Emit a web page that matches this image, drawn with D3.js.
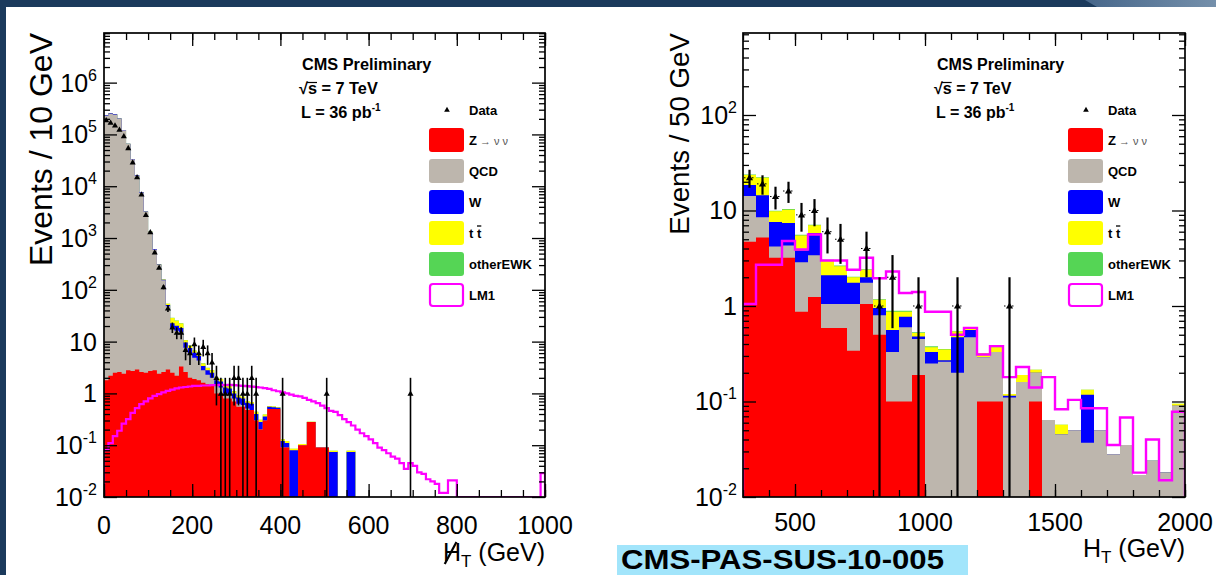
<!DOCTYPE html>
<html><head><meta charset="utf-8">
<script src="https://cdn.jsdelivr.net/npm/d3@7"></script>
<style>
body{margin:0;background:#fff;}
svg{display:block;font-family:"Liberation Sans",Arial,Helvetica,sans-serif;}
</style>
</head><body>
<svg id="c" width="1216" height="575"></svg>
<script>
// ---------------- DATA ----------------
// Left panel: missing HT, 10 GeV bins, 0-1000 GeV (100 bins)
const leftZ = [1.8,2.2,2.5,2.6,2.4,2.8,2.7,2.9,2.6,2.5, 2.7,2.8,2.4,2.6,2.9,2.5,2.2,3.3,2.6,2.0,
 1.9,1.8,1.6,1.5,1.4,1.0,1.0,0.8,0.8,0.7, 0.55,0.55,0.48,0.48,0.3,0.2,0.3,0.5,0.5,0.5,
 0.09,0.09,0,0,0.1,0.1,0.28,0.28,0.09,0.09, 0.09,0,0,0,0,0,0,0,0,0,
 0,0,0,0,0,0,0,0,0,0, 0,0,0,0,0,0,0,0,0,0, 0,0,0,0,0,0,0,0,0,0, 0,0,0,0,0,0,0,0,0,0];
const leftQCD = [2.3e5,2.5e5,2.4e5,2.0e5,1.2e5,6.5e4,3.3e4,1.6e4,7.5e3,3.2e3, 1300,600,300,150,45,16,14,12,5,4,
 3,2.5,1.2,0.8,0.6,0.4,0.3,0.2,0.15,0.1, 0.08,0.05,0.03,0,0,0,0,0,0,0,
 0,0,0,0,0,0,0,0,0,0, 0,0,0,0,0,0,0,0,0,0, 0,0,0,0,0,0,0,0,0,0,
 0,0,0,0,0,0,0,0,0,0, 0,0,0,0,0,0,0,0,0,0, 0,0,0,0,0,0,0,0,0,0];
const leftW = [4000,5000,4000,3000,2000,1200,600,300,120,50, 25,10,6,4,3,4,4,3,2,1.5,
 1.2,1.0,0.6,0.5,0.5,0.4,0.4,0.3,0.3,0.2, 0.2,0.2,0.15,0.15,0.1,0.08,0.06,0.05,0.04,0.03,
 0.03,0.02,0.08,0.08,0,0,0,0,0,0, 0,0.074,0.074,0,0,0.074,0.074,0,0,0,
 0,0,0,0,0,0,0,0,0,0, 0,0,0,0,0,0,0,0,0,0, 0,0,0,0,0,0,0,0,0,0, 0,0,0,0,0,0,0,0,0,0];
const leftTT = [1,1,1,1,1,1,1,1,1,1, 2,2,2,2,3,6,5,4,1.0,0.8,
 0.6,0.5,0.4,0.3,0.3,0.2,0.2,0.15,0.12,0.1, 0.08,0.06,0.05,0.05,0.04,0.03,0.03,0.02,0.02,0.01,
 0.01,0.01,0.005,0.005,0.005,0.005,0.003,0.003,0,0, 0,0.004,0.004,0,0,0.004,0.004,0,0,0,
 0,0,0,0,0,0,0,0,0,0, 0,0,0,0,0,0,0,0,0,0, 0,0,0,0,0,0,0,0,0,0, 0,0,0,0,0,0,0,0,0,0];
const leftEWK = [50,50,40,30,20,10,5,3,1,0.5, 0.3,0.2,0.2,0.2,0.2,0.3,0.3,0.3,0.1,0.1,
 0.05,0.05,0.03,0.03,0.02,0.02,0.02,0.01,0.01,0.01, 0,0,0,0,0,0,0,0,0,0,
 0,0,0,0,0,0,0,0,0,0, 0,0,0,0,0,0,0,0,0,0, 0,0,0,0,0,0,0,0,0,0,
 0,0,0,0,0,0,0,0,0,0, 0,0,0,0,0,0,0,0,0,0, 0,0,0,0,0,0,0,0,0,0];
const leftLM1 = [0.08,0.11,0.15,0.19,0.26,0.32,0.42,0.52,0.62,0.7, 0.8,0.9,0.97,1.05,1.12,1.18,1.25,1.3,1.33,1.36,
 1.4,1.4,1.42,1.42,1.45,1.45,1.47,1.45,1.47,1.45, 1.42,1.4,1.38,1.35,1.33,1.3,1.27,1.22,1.15,1.1,
 1.05,1.0,0.95,0.9,0.88,0.82,0.75,0.7,0.65,0.58, 0.52,0.46,0.44,0.38,0.32,0.28,0.24,0.2,0.17,0.15,
 0.13,0.11,0.09,0.08,0.07,0.06,0.055,0.045,0.035,0.045, 0.04,0.03,0.028,0.022,0.02,0.018,0.012,0.012,0.021,0.021,
 0,0,0,0,0,0,0,0,0,0, 0,0,0,0,0,0,0,0,0,0.029];
const leftData = [1.9e5,1.7e5,1.5e5,1.25e5,9.3e4,5.5e4,2.9e4,1.5e4,7000,2800, 1300,530,270,113,44,19,15,15,7,6,
 9,6,8,6,4,2,1,1,1,2, 2,1,1,2,1,0,0,0,0,0,
 1,0,0,0,0,0,0,0,0,0, 1,0,0,0,0,0,0,0,0,0, 0,0,0,0,0,0,0,0,0,1,
 0,0,0,0,0,0,0,0,0,0, 0,0,0,0,0,0,0,0,0,0, 0,0,0,0,0,0,0,0,0,0];

// Right panel: HT, 50 GeV bins, 300-2000 GeV (34 bins)
const rightZ = [4.7,5.2,3.2,3.2,0.87,1.24,0.59,0.59,0.34,1.05, 0.5,0.1,0.1,0.19,0,0,0,0,0.1,0.1,
 0,0,0.1,0,0,0,0,0,0,0, 0,0,0,0];
const rightQCD = [9.5,3.3,1.0,1.1,2.0,2.16,0.46,0.46,0.71,0.7, 0.3,0.23,0.5,0.26,0.25,0.26,0.2,0.47,0.19,0.23,
 0.11,0.16,0.1,0.064,0.045,0.05,0.037,0.05,0.028,0.035, 0.017,0.024,0.018,0.09];
const rightW = [4.3,5.9,3.4,3.1,0.95,2.4,1.05,1.05,0.7,0.25, 0.15,0.23,0.17,0.03,0.08,0.01,0.27,0.09,0,0,
 0.005,0,0,0,0,0,0.081,0,0,0, 0,0,0,0];
const rightTT = [5.0,7.6,2.2,2.8,1.65,1.2,0.9,0.5,0.25,0.4, 0.21,0.31,0.1,0.04,0.04,0.08,0.07,0.03,0.03,0.04,
 0.005,0.03,0.015,0,0.012,0,0.015,0,0,0, 0,0,0,0.005];
const rightEWK = [0.3,0.3,0.15,0.15,0.1,0.1,0.05,0.05,0.03,0.03, 0.02,0.02,0.02,0.01,0.01,0.005,0.005,0.005,0,0,
 0,0,0,0,0,0,0,0,0,0, 0,0,0,0];
const rightLM1 = [1.05,2.7,2.7,4.8,3.9,5.6,3.0,3.0,2.4,3.2, 1.95,2.3,1.37,1.4,0.87,0.87,0.5,0.59,0.31,0.38,
 0.18,0.23,0.14,0.18,0.083,0.104,0.085,0.085,0.035,0.068, 0.018,0.04,0.015,0.078];
const rightData = [22,19,14,16,9,10,6,5,0,4, 1,2,0,1,0,0,1,0,0,0,
 1,0,0,0,0,0,0,0,0,0, 0,0,0,0];

const leftXTicks = [0,200,400,600,800,1000];
const rightXTicks = [500,1000,1500,2000];
const leftDecades = [-2,-1,0,1,2,3,4,5,6];
const rightDecades = [-2,-1,0,1,2];
const legendNames = ["Z","QCD","W","t t","otherEWK","LM1"];
const stackColors = ["#ff0000","#bdb6ad","#0000ff","#ffff00","#55d555"];

// ---------------- DRAW ----------------
const svg = d3.select("#c");
const defs = svg.append("defs");
const W = 1216, H = 575;

// slide decoration
svg.append("rect").attr("x",0).attr("y",0).attr("width",W).attr("height",7).attr("fill","#1b3a5c");
svg.append("rect").attr("x",0).attr("y",0).attr("width",6).attr("height",H).attr("fill","#1b3a5c");
const lg = defs.append("linearGradient").attr("id","cg").attr("x1","0").attr("x2","1");
lg.append("stop").attr("offset","0").attr("stop-color","#46668a");
lg.append("stop").attr("offset","1").attr("stop-color","#7590ab");
svg.append("path").attr("d","M1085,0 L1216,0 L1216,7 L1097,7 Z").attr("fill","url(#cg)");

function drawPanel(c){
  const x = d3.scaleLinear().domain(c.xDomain).range([c.x0,c.x1]);
  const y = d3.scaleLog().domain([0.01,c.yMax]).range([c.yB,c.yT]).clamp(true);
  const Y = v => v>0 ? y(v) : c.yB;
  const n = c.layers[0].length;
  const bw = (c.xDomain[1]-c.xDomain[0])/n;
  const edges = d3.range(n+1).map(i=>c.xDomain[0]+i*bw);
  const g = svg.append("g");
  const cid = "clip"+c.id;
  defs.append("clipPath").attr("id",cid).append("rect")
    .attr("x",c.x0).attr("y",c.yT).attr("width",c.x1-c.x0).attr("height",c.yB-c.yT);
  const pg = g.append("g").attr("clip-path",`url(#${cid})`);

  // stacked histogram (cumulative, drawn top-down)
  let acc = new Array(n).fill(0); const cums = [];
  c.layers.forEach(L=>{acc = acc.map((a,i)=>a+L[i]); cums.push(acc.slice());});
  const area = d3.area().curve(d3.curveStepAfter).x(d=>x(d[0])).y0(c.yB).y1(d=>Y(d[1]));
  for(let k=cums.length-1;k>=0;k--){
    const pts = edges.map((e,i)=>[e,cums[k][Math.min(i,n-1)]]);
    pg.append("path").attr("d",area(pts)).attr("fill",stackColors[k]);
  }
  // LM1 line
  const line = d3.line().curve(d3.curveStepAfter).x(d=>x(d[0])).y(d=>Y(d[1]));
  const lpts = [[edges[0],0]].concat(edges.map((e,i)=>[e,c.lm1[Math.min(i,n-1)]])).concat([[edges[n],0]]);
  pg.append("path").attr("d",line(lpts)).attr("fill","none").attr("stroke","#ff00ff").attr("stroke-width",c.lmW);

  // data
  const dg = pg.append("g");
  c.data.forEach((v,i)=>{
    if(v<=0) return;
    const cx = x(edges[i]+bw/2), e = Math.sqrt(v);
    dg.append("line").attr("x1",cx).attr("x2",cx).attr("y1",Y(v+e)).attr("y2",Y(v-e))
      .attr("stroke","#000").attr("stroke-width",c.errW);
    if(c.xerr){
      dg.append("line").attr("x1",x(edges[i])+1).attr("x2",x(edges[i+1])-1).attr("y1",Y(v)).attr("y2",Y(v))
        .attr("stroke","#000").attr("stroke-width",1).attr("stroke-dasharray","1.5,2.5");
    }
    dg.append("path").attr("d",d3.symbol(d3.symbolTriangle,c.mk)()).attr("transform",`translate(${cx},${Y(v)+0.5})`).attr("fill","#000");
  });

  // axes ticks
  const majorY = c.decades.map(e=>Math.pow(10,e));
  const minorY = [];
  c.decades.forEach(e=>{for(let m=2;m<=9;m++){const v=m*Math.pow(10,e); if(v<c.yMax) minorY.push(v);}});
  const ax = g.append("g");
  const styleAx = s=>{s.select(".domain").remove(); s.selectAll("line").attr("stroke","#000").attr("stroke-width",1.3);};
  ax.append("g").attr("transform",`translate(${c.x0},0)`).call(d3.axisLeft(y).tickValues(majorY).tickSize(-13).tickFormat("")).call(styleAx);
  ax.append("g").attr("transform",`translate(${c.x0},0)`).call(d3.axisLeft(y).tickValues(minorY).tickSize(-6).tickFormat("")).call(styleAx);
  ax.append("g").attr("transform",`translate(${c.x1},0)`).call(d3.axisRight(y).tickValues(majorY).tickSize(-13).tickFormat("")).call(styleAx);
  ax.append("g").attr("transform",`translate(${c.x1},0)`).call(d3.axisRight(y).tickValues(minorY).tickSize(-6).tickFormat("")).call(styleAx);
  ax.append("g").attr("transform",`translate(0,${c.yB})`).call(d3.axisBottom(x).tickValues(c.xMajor).tickSize(-13).tickFormat("")).call(styleAx);
  ax.append("g").attr("transform",`translate(0,${c.yB})`).call(d3.axisBottom(x).tickValues(c.xMinor).tickSize(-7).tickFormat("")).call(styleAx);
  ax.append("g").attr("transform",`translate(0,${c.yT})`).call(d3.axisTop(x).tickValues(c.xMajor).tickSize(-13).tickFormat("")).call(styleAx);
  ax.append("g").attr("transform",`translate(0,${c.yT})`).call(d3.axisTop(x).tickValues(c.xMinor).tickSize(-7).tickFormat("")).call(styleAx);
  g.append("rect").attr("x",c.x0).attr("y",c.yT).attr("width",c.x1-c.x0).attr("height",c.yB-c.yT)
    .attr("fill","none").attr("stroke","#000").attr("stroke-width",1.7);

  // y tick labels
  c.decades.forEach(e=>{
    const t = g.append("text").attr("x",c.x0-c.yLabOff).attr("y",y(Math.pow(10,e))+9)
      .attr("text-anchor","end").attr("font-size",c.labFs).attr("fill","#000");
    if(e===0){t.text("1");}
    else if(e===1){t.text("10");}
    else { t.append("tspan").text("10"); t.append("tspan").attr("font-size",c.labFs*0.64).attr("dy",-11).text(String(e)); }
  });
  // x tick labels
  c.xMajor.forEach(v=>{
    g.append("text").attr("x",x(v)).attr("y",c.xLabY).attr("text-anchor","middle")
      .attr("font-size",c.labFs).attr("fill","#000").text(String(v));
  });
  // y title
  g.append("text").attr("transform",`translate(${c.yTitleX},${c.yT}) rotate(-90)`).attr("text-anchor","end")
    .attr("font-size",c.yTitleFs).attr("fill","#000").text(c.yTitle);
  // x title
  const xt = g.append("text").attr("y",c.xTitleY).attr("font-size",25).attr("fill","#000");
  xt.append("tspan").text("H");
  xt.append("tspan").attr("font-size",17).attr("dy",6).text("T");
  xt.append("tspan").attr("dy",-6).text(" (GeV)");
  const xw = xt.node().getComputedTextLength();
  const xs = c.x1 - xw;
  xt.attr("x",xs);
  if(c.slash){
    const hw = xt.node().getSubStringLength(0,1);
    g.append("line").attr("x1",xs+hw*0.1).attr("y1",c.xTitleY+3).attr("x2",xs+hw*0.75).attr("y2",c.xTitleY-19)
      .attr("stroke","#000").attr("stroke-width",2.2);
  }

  // CMS text
  const tx = c.x0 + c.cmsOff;
  const fs = c.cmsFs;
  g.append("text").attr("x",tx).attr("y",70).attr("font-size",fs).attr("font-weight","bold").text("CMS Preliminary");
  const st = g.append("text").attr("x",tx-3).attr("y",94).attr("font-size",fs).attr("font-weight","bold").text("\u221As = 7 TeV");
  const sw0 = st.node().getSubStringLength(0,1), sw1 = st.node().getSubStringLength(1,1);
  g.append("line").attr("x1",tx-3+sw0-1).attr("x2",tx-3+sw0+sw1).attr("y1",82.5).attr("y2",82.5).attr("stroke","#000").attr("stroke-width",1.2);
  const lt = g.append("text").attr("x",tx-1).attr("y",118).attr("font-size",fs).attr("font-weight","bold");
  lt.append("tspan").text("L = 36 pb");
  lt.append("tspan").attr("font-size",10).attr("dy",-7).text("-1");

  // legend
  const bx = c.x0 + 325, tX = c.x0 + 365;
  const rows = [110,140,171,202,233,264,295];
  g.append("path").attr("d",d3.symbol(d3.symbolTriangle,14)()).attr("transform",`translate(${c.x0+343},${rows[0]})`).attr("fill","#000");
  g.append("text").attr("x",tX).attr("y",rows[0]+4.5).attr("font-size",13).attr("font-weight","bold").text("Data");
  const fills = stackColors.concat(["#fff"]);
  legendNames.forEach((nm,i)=>{
    const ry = rows[i+1];
    const r = g.append("rect").attr("x",bx).attr("y",ry-12).attr("width",35).attr("height",24).attr("rx",3)
      .attr("fill",fills[i]);
    if(i===5) r.attr("x",bx+1).attr("y",ry-11).attr("width",33).attr("height",22).attr("stroke","#ff00ff").attr("stroke-width",2.2);
    const t = g.append("text").attr("x",tX).attr("y",ry+4.5).attr("font-size",13).attr("font-weight","bold");
    if(i===0){
      t.append("tspan").text("Z");
      t.append("tspan").attr("font-weight","normal").attr("font-size",11).attr("fill","#555").text(" \u2192 \u03BD \u03BD");
    } else if(i===3){
      t.text(nm);
      const w0 = t.node().getSubStringLength(0,2), w1 = t.node().getSubStringLength(2,1);
      g.append("line").attr("x1",tX+w0).attr("x2",tX+w0+w1).attr("y1",ry-7).attr("y2",ry-7).attr("stroke","#000").attr("stroke-width",1.3);
    } else t.text(nm);
  });
}

drawPanel({
  id:"L", x0:104, x1:545, yT:33, yB:497, xDomain:[0,1000], yMax:9.08e6,
  layers:[leftZ,leftQCD,leftW,leftTT,leftEWK], lm1:leftLM1, data:leftData,
  decades:leftDecades, xMajor:leftXTicks, xMinor:d3.range(0,1001,50),
  mk:16, errW:1.6, xerr:false, lmW:2.2,
  labFs:25, yLabOff:7, xLabY:534, yTitle:"Events / 10 GeV", yTitleX:52, yTitleFs:32,
  xTitleY:561, slash:true, cmsOff:198, cmsFs:16.3
});
drawPanel({
  id:"R", x0:743, x1:1185, yT:33, yB:497, xDomain:[300,2000], yMax:722,
  layers:[rightZ,rightQCD,rightW,rightTT,rightEWK], lm1:rightLM1, data:rightData,
  decades:rightDecades, xMajor:rightXTicks, xMinor:d3.range(300,2001,100),
  mk:22, errW:2.2, xerr:true, lmW:2.4,
  labFs:25, yLabOff:6, xLabY:531, yTitle:"Events / 50 GeV", yTitleX:689, yTitleFs:27.7,
  xTitleY:557, slash:false, cmsOff:194, cmsFs:16
});

// document id label
svg.append("rect").attr("x",617).attr("y",545).attr("width",351).attr("height",30).attr("fill","#a2e5fb");
svg.append("text").attr("x",621).attr("y",569).attr("font-size",27).attr("font-weight","bold").attr("fill","#000")
  .attr("textLength",323).attr("lengthAdjust","spacingAndGlyphs").text("CMS-PAS-SUS-10-005");
</script>
</body></html>
